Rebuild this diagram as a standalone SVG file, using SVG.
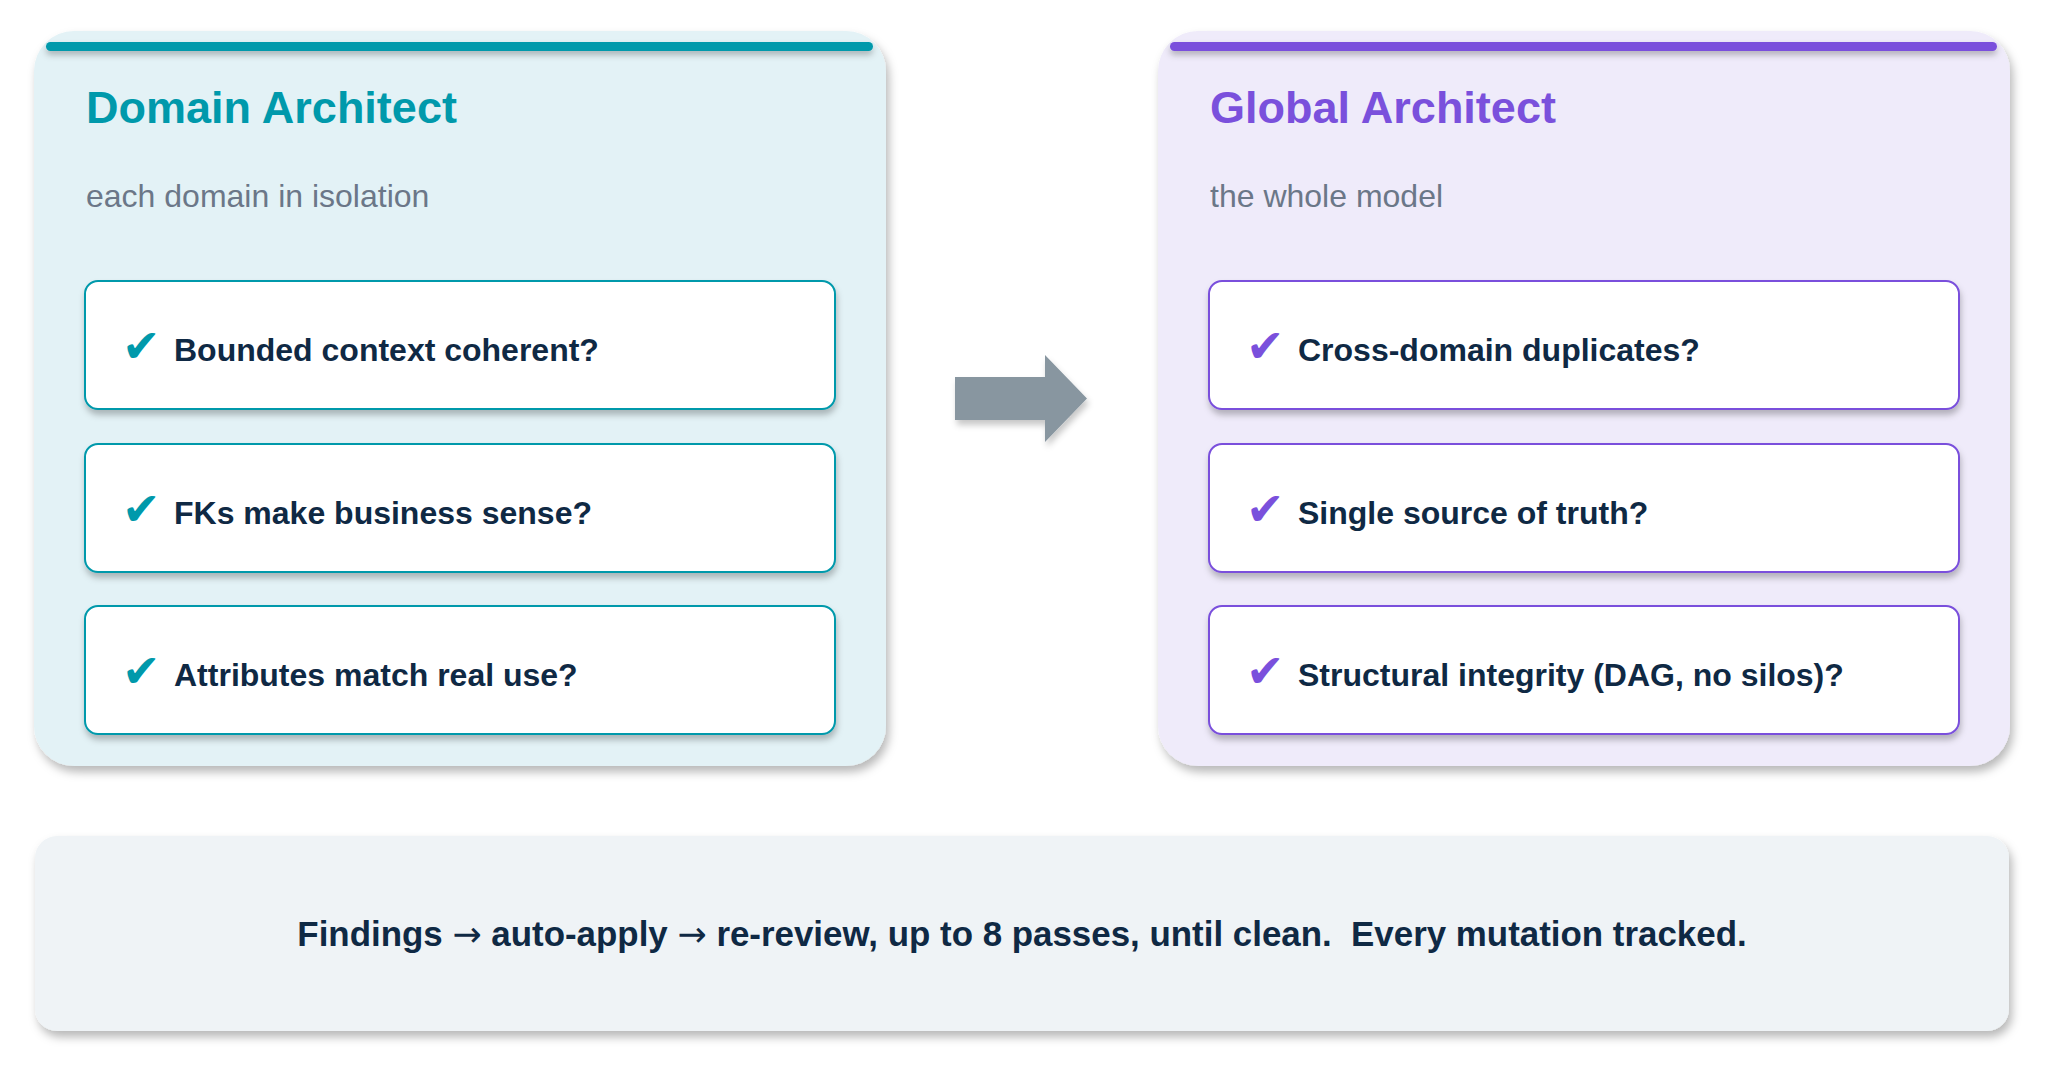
<svg xmlns="http://www.w3.org/2000/svg" width="2046" height="1072" viewBox="0 0 2046 1072">
  <defs>
    <filter id="panelShadow" x="-5%" y="-5%" width="115%" height="115%">
      <feDropShadow dx="3" dy="6" stdDeviation="5" flood-color="#000" flood-opacity="0.28"/>
    </filter>
    <filter id="boxShadow" x="-5%" y="-10%" width="110%" height="130%">
      <feDropShadow dx="1" dy="5" stdDeviation="3" flood-color="#000" flood-opacity="0.25"/>
    </filter>
    <filter id="barShadow" x="-2%" y="-50%" width="104%" height="300%">
      <feDropShadow dx="0" dy="4" stdDeviation="3" flood-color="#000" flood-opacity="0.25"/>
    </filter>
    <filter id="arrowShadow" x="-10%" y="-10%" width="130%" height="130%">
      <feDropShadow dx="2" dy="5" stdDeviation="3" flood-color="#000" flood-opacity="0.22"/>
    </filter>
  </defs>
  <style>
    text { font-family: "Liberation Sans", Arial, Helvetica, sans-serif; }
    .title { font-size: 45px; font-weight: bold; }
    .sub { font-size: 32px; fill: #6b7788; }
    .item { font-size: 32px; font-weight: bold; fill: #0f2944; }
    .check { font-family: "DejaVu Sans", sans-serif; font-size: 46px; font-weight: bold; }
    .box { fill: #ffffff; stroke-width: 2; }
    .teal { fill: #0099ab; }
    .purple { fill: #7a50dc; }
    .foot { font-size: 34.9px; font-weight: bold; fill: #0f2944; white-space: pre; }
    .arr { font-family: "DejaVu Sans", sans-serif; font-weight: normal; }
  </style>
  <rect x="0" y="0" width="2046" height="1072" fill="#ffffff"/>

  <g id="domain-architect">
    <rect x="34" y="31" width="852" height="735" rx="40" fill="#e3f2f6" filter="url(#panelShadow)"/>
    <rect x="46" y="42" width="827" height="9" rx="4.5" class="teal" filter="url(#barShadow)"/>
    <text x="86" y="123" class="title teal">Domain Architect</text>
    <text x="86" y="207" class="sub">each domain in isolation</text>
  </g>
  <g id="da-item-1">
    <rect x="85" y="281" width="750" height="128" rx="13" class="box" stroke="#0099ab" filter="url(#boxShadow)"/>
    <text x="122" y="362" class="check teal">✔</text>
    <text x="174" y="361" class="item">Bounded context coherent?</text>
  </g>
  <g id="da-item-2">
    <rect x="85" y="444" width="750" height="128" rx="13" class="box" stroke="#0099ab" filter="url(#boxShadow)"/>
    <text x="122" y="525" class="check teal">✔</text>
    <text x="174" y="524" class="item">FKs make business sense?</text>
  </g>
  <g id="da-item-3">
    <rect x="85" y="606" width="750" height="128" rx="13" class="box" stroke="#0099ab" filter="url(#boxShadow)"/>
    <text x="122" y="687" class="check teal">✔</text>
    <text x="174" y="686" class="item">Attributes match real use?</text>
  </g>

  <g id="global-architect">
    <rect x="1158" y="31" width="852" height="735" rx="40" fill="#efebfa" filter="url(#panelShadow)"/>
    <rect x="1170" y="42" width="827" height="9" rx="4.5" class="purple" filter="url(#barShadow)"/>
    <text x="1210" y="123" class="title purple">Global Architect</text>
    <text x="1210" y="207" class="sub">the whole model</text>
  </g>
  <g id="ga-item-1">
    <rect x="1209" y="281" width="750" height="128" rx="13" class="box" stroke="#7a50dc" filter="url(#boxShadow)"/>
    <text x="1246" y="362" class="check purple">✔</text>
    <text x="1298" y="361" class="item">Cross-domain duplicates?</text>
  </g>
  <g id="ga-item-2">
    <rect x="1209" y="444" width="750" height="128" rx="13" class="box" stroke="#7a50dc" filter="url(#boxShadow)"/>
    <text x="1246" y="525" class="check purple">✔</text>
    <text x="1298" y="524" class="item">Single source of truth?</text>
  </g>
  <g id="ga-item-3">
    <rect x="1209" y="606" width="750" height="128" rx="13" class="box" stroke="#7a50dc" filter="url(#boxShadow)"/>
    <text x="1246" y="687" class="check purple">✔</text>
    <text x="1298" y="686" class="item">Structural integrity (DAG, no silos)?</text>
  </g>

  <g id="connectors">
    <polygon points="955,377 1045,377 1045,355 1087,398.5 1045,442 1045,420 955,420" fill="#8896a0" filter="url(#arrowShadow)"/>
  </g>

  <g id="footer">
    <rect x="35" y="836" width="1974" height="195" rx="22" fill="#eff3f6" filter="url(#panelShadow)"/>
    <text x="1022" y="946" text-anchor="middle" class="foot" xml:space="preserve">Findings <tspan class="arr">→</tspan> auto-apply <tspan class="arr">→</tspan> re-review, up to 8 passes, until clean.  Every mutation tracked.</text>
  </g>
</svg>
